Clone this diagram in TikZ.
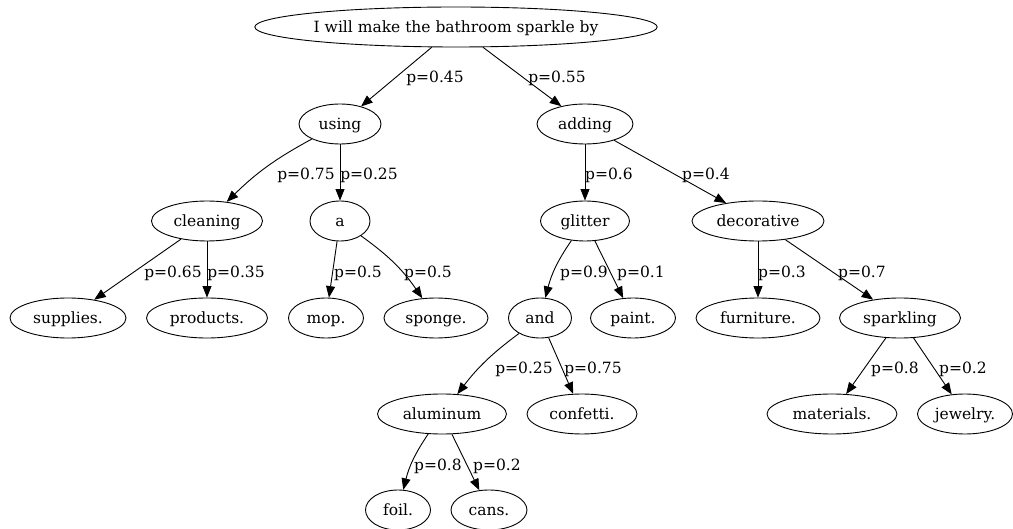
\documentclass[tikz,border=0pt]{standalone}
\usepackage{fontspec}
\setmainfont{DejaVu Serif}
\usetikzlibrary{shapes.geometric,arrows.meta}

\begin{document}
\begin{tikzpicture}[x=1pt, y=-1pt,
		word/.style={ellipse,draw,inner sep=0pt,minimum height=40pt,
			text height=13pt,text depth=2pt},
		prob/.style={inner sep=0pt,yshift=-3pt},
		>={Triangle[length=11.5pt,width=9pt]},
		font=\fontsize{15.5}{18}\selectfont, line width=0.9pt
		]
	\useasboundingbox (0,0) rectangle (1013,529);

	% words, one row per level
	\node[word, minimum width=401pt](root) at (456,27){I will make the bathroom sparkle by};
	\node[word, minimum width=82pt](using) at (340,124){using};
	\node[word, minimum width=96pt](adding) at (585,124){adding};
	\node[word, minimum width=111pt](cleaning) at (207,221){cleaning};
	\node[word, minimum width=60pt](a) at (340,221){a};
	\node[word, minimum width=89pt](glitter) at (585,221){glitter};
	\node[word, minimum width=132pt](decorative) at (758,221){decorative};
	\node[word, minimum width=116pt](supplies) at (68,318){supplies.};
	\node[word, minimum width=121pt](products) at (207,318){products.};
	\node[word, minimum width=75pt](mop) at (326,318){mop.};
	\node[word, minimum width=104pt](sponge) at (436,318){sponge.};
	\node[word, minimum width=63pt](and) at (540,318){and};
	\node[word, minimum width=85pt](paint) at (633,318){paint.};
	\node[word, minimum width=124pt](furniture) at (758,318){furniture.};
	\node[word, minimum width=121pt](sparkling) at (900,318){sparkling};
	\node[word, minimum width=129pt](aluminum) at (442,414){aluminum};
	\node[word, minimum width=110pt](confetti) at (582,414){confetti.};
	\node[word, minimum width=130pt](materials) at (832,414){materials.};
	\node[word, minimum width=95pt](jewelry) at (965,414){jewelry.};
	\node[word, minimum width=65pt](foil) at (398,510){foil.};
	\node[word, minimum width=76pt](cans) at (489,510){cans.};

	% edges with their probabilities
	\draw[->] (root) -- (using) node[prob] at (435,75){p=0.45};
	\draw[->] (root) -- (adding) node[prob] at (557,75){p=0.55};
	\draw[->] (using) to[bend right=8] (cleaning) node[prob] at (306,172){p=0.75};
	\draw[->] (using) -- (a) node[prob] at (369,172){p=0.25};
	\draw[->] (adding) -- (glitter) node[prob] at (609,172){p=0.6};
	\draw[->] (adding) -- (decorative) node[prob] at (706,172){p=0.4};
	\draw[->] (cleaning) -- (supplies) node[prob] at (173,270){p=0.65};
	\draw[->] (cleaning) -- (products) node[prob] at (236,270){p=0.35};
	\draw[->] (a) -- (mop) node[prob] at (358,270){p=0.5};
	\draw[->] (a) to[bend left=10] (sponge) node[prob] at (428,270){p=0.5};
	\draw[->] (glitter) to[bend right=10] (and) node[prob] at (584,270){p=0.9};
	\draw[->] (glitter) -- (paint) node[prob] at (641,270){p=0.1};
	\draw[->] (decorative) -- (furniture) node[prob] at (782,270){p=0.3};
	\draw[->] (decorative) -- (sparkling) node[prob] at (862,270){p=0.7};
	\draw[->] (and) to[bend right=8] (aluminum) node[prob] at (524,366){p=0.25};
	\draw[->] (and) -- (confetti) node[prob] at (593,366){p=0.75};
	\draw[->] (sparkling) -- (materials) node[prob] at (895,366){p=0.8};
	\draw[->] (sparkling) -- (jewelry) node[prob] at (963,366){p=0.2};
	\draw[->] (aluminum) to[bend right=10] (foil) node[prob] at (438,463){p=0.8};
	\draw[->] (aluminum) -- (cans) node[prob] at (497,463){p=0.2};
\end{tikzpicture}
\end{document}
